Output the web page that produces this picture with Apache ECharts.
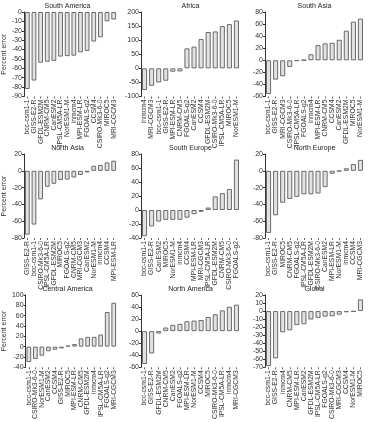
<!DOCTYPE html>
<html>
<head>
<meta charset="utf-8">
<script src="https://cdn.jsdelivr.net/npm/echarts@6/dist/echarts.min.js"></script>
<style>
  html, body { margin: 0; padding: 0; background: #fff; }
  #main { width: 369px; height: 422px; }
</style>
</head>
<body>
<div id="main"></div>
<script type="text/javascript">
    // panel titles
    var titles = ['South America', 'Africa', 'South Asia', 'North Asia', 'South Europe',
        'North Europe', 'Central America', 'North America', 'Global'];

    // models per panel (sorted as in the figure)
    var catSouthAmerica = ['bcc-csm1-1', 'GISS-E2-R', 'GFDL-ESM2M', 'CNRM-CM5', 'CanESM2', 'IPSL-CM5A-LR', 'NorESM1-M',
        'inmcm4', 'MPI-ESM-LR', 'FGOALS-g2', 'CCSM4', 'CSIRO-Mk3-6-0', 'MIROC5', 'MRI-CGCM3'];
    var valSouthAmerica = [-82, -73, -54, -53, -52, -47.5, -47, -46.5, -43, -41.5, -31.5, -27, -10, -8];

    var catAfrica = ['inmcm4', 'MRI-CGCM3', 'bcc-csm1-1', 'GISS-E2-R', 'MPI-ESM-LR', 'CNRM-CM5', 'FGOALS-g2',
        'CanESM2', 'CCSM4', 'GFDL-ESM2M', 'CSIRO-Mk3-6-0', 'IPSL-CM5A-LR', 'MIROC5', 'NorESM1-M'];
    var valAfrica = [-77, -62, -50, -44, -12, -11, 71, 77, 104, 129, 131, 150, 157, 170];

    var catSouthAsia = ['bcc-csm1-1', 'GISS-E2-R', 'MRI-CGCM3', 'CSIRO-Mk3-6-0', 'IPSL-CM5A-LR', 'FGOALS-g2', 'inmcm4',
        'MPI-ESM-LR', 'CNRM-CM5', 'CCSM4', 'CanESM2', 'GFDL-ESM2M', 'MIROC5', 'NorESM1-M'];
    var valSouthAsia = [-56, -32, -26.5, -11, -1, 0.5, 10, 25, 28, 29, 34, 49, 64, 69];

    var catNorthAsia = ['GISS-E2-R', 'bcc-csm1-1', 'CSIRO-Mk3-6-0', 'IPSL-CM5A-LR', 'GFDL-ESM2M', 'MIROC5', 'FGOALS-g2',
        'CNRM-CM5', 'MRI-CGCM3', 'CanESM2', 'NorESM1-M', 'inmcm4', 'CCSM4', 'MPI-ESM-LR'];
    var valNorthAsia = [-76, -64, -34, -19, -15.5, -11, -10.5, -8, -5, -2, 6, 7, 10, 12];

    var catSouthEurope = ['bcc-csm1-1', 'GISS-E2-R', 'CanESM2', 'MIROC5', 'NorESM1-M', 'inmcm4', 'CCSM4',
        'MPI-ESM-LR', 'MRI-CGCM3', 'IPSL-CM5A-LR', 'GFDL-ESM2M', 'CNRM-CM5', 'CSIRO-Mk3-6-0', 'FGOALS-g2'];
    var valSouthEurope = [-37.5, -23.5, -16.5, -14, -14, -14, -11, -6, -2.5, 3.5, 19.5, 24, 30, 72];

    var catNorthEurope = ['bcc-csm1-1', 'GISS-E2-R', 'MIROC5', 'CNRM-CM5', 'FGOALS-g2', 'IPSL-CM5A-LR', 'GFDL-ESM2M',
        'CSIRO-Mk3-6-0', 'CanESM2', 'MPI-ESM-LR', 'NorESM1-M', 'inmcm4', 'CCSM4', 'MRI-CGCM3'];
    var valNorthEurope = [-74, -53, -38, -33.5, -31, -28, -28, -27, -19.5, -3.5, -0.5, 3, 8, 13];

    var catCentralAmerica = ['bcc-csm1-1', 'CSIRO-Mk3-6-0', 'NorESM1-M', 'CanESM2', 'CCSM4', 'GISS-E2-R', 'MIROC5',
        'MPI-ESM-LR', 'CNRM-CM5', 'GFDL-ESM2M', 'inmcm4', 'IPSL-CM5A-LR', 'FGOALS-g2', 'MRI-CGCM3'];
    var valCentralAmerica = [-30, -24, -17.5, -9, -6, -3.5, 2, 5, 16, 19, 19, 23.5, 67, 85];

    var catNorthAmerica = ['bcc-csm1-1', 'GISS-E2-R', 'GFDL-ESM2M', 'CNRM-CM5', 'CanESM2', 'FGOALS-g2', 'MPI-ESM-LR',
        'NorESM1-M', 'CCSM4', 'MIROC5', 'CSIRO-Mk3-6-0', 'IPSL-CM5A-LR', 'inmcm4', 'MRI-CGCM3'];
    var valNorthAmerica = [-54.5, -37, -4, 6, 10.5, 12, 16.5, 17.5, 18.5, 23.5, 28, 34.5, 40.5, 44];

    var catGlobal = ['bcc-csm1-1', 'GISS-E2-R', 'inmcm4', 'CNRM-CM5', 'MPI-ESM-LR', 'CanESM2', 'GFDL-ESM2M',
        'IPSL-CM5A-LR', 'FGOALS-g2', 'CSIRO-Mk3-6-0', 'MRI-CGCM3', 'CCSM4', 'NorESM1-M', 'MIROC5'];
    var valGlobal = [-68.5, -59, -26.5, -24, -17.5, -16.5, -10.5, -8.5, -7, -6.5, -4.5, -1.5, -0.7, 14.5];

    // y axis ranges [min, max, interval]
    var yRanges = [[-90, 0, 10], [-100, 200, 50], [-60, 80, 20],
        [-80, 20, 20], [-40, 80, 20], [-80, 20, 20],
        [-40, 100, 20], [-60, 60, 20], [-70, 20, 10]];

    var cats = [catSouthAmerica, catAfrica, catSouthAsia, catNorthAsia, catSouthEurope,
        catNorthEurope, catCentralAmerica, catNorthAmerica, catGlobal];
    var vals = [valSouthAmerica, valAfrica, valSouthAsia, valNorthAsia, valSouthEurope,
        valNorthEurope, valCentralAmerica, valNorthAmerica, valGlobal];

    var chart = echarts.init(document.getElementById('main'));
    var font = 'Liberation Sans';
    var colLeft = [18, 141, 265];
    var rowTop = [12, 154, 295];
    var rowH = [84.5, 84, 83];
    var plotW = 99;

    var option = {
        animation: false,
        backgroundColor: '#fff',
        textStyle: { fontFamily: font },
        title: [], grid: [], xAxis: [], yAxis: [], series: []
    };

    for (var i = 0; i < 9; i++) {
        var r = Math.floor(i / 3), c = i % 3;
        option.title.push({
            text: titles[i],
            left: colLeft[c] + plotW / 2,
            top: rowTop[r] - 9,
            textAlign: 'center',
            padding: 0,
            textStyle: { fontSize: 7, fontWeight: 'normal', color: '#222', fontFamily: font }
        });
        option.grid.push({
            left: colLeft[c], top: rowTop[r], width: plotW, height: rowH[r]
        });
        option.xAxis.push({
            type: 'category',
            gridIndex: i,
            data: cats[i],
            position: 'bottom',
            axisLine: { show: false, onZero: false },
            axisTick: { show: true, alignWithLabel: true, length: 2, lineStyle: { color: '#666' } },
            axisLabel: { rotate: 90, interval: 0, fontSize: 6.8, margin: 3, color: '#333', fontFamily: font },
            splitLine: { show: false }
        });
        option.yAxis.push({
            type: 'value',
            gridIndex: i,
            min: yRanges[i][0],
            max: yRanges[i][1],
            interval: yRanges[i][2],
            name: c === 0 ? 'Percent error' : '',
            nameLocation: 'middle',
            nameGap: 11,
            nameTextStyle: { fontSize: 7, color: '#333', fontFamily: font },
            axisLine: { show: true, lineStyle: { color: '#333', width: 1 } },
            axisTick: { show: true, length: 2, lineStyle: { color: '#333' } },
            axisLabel: { fontSize: 7, margin: 2, color: '#333', fontFamily: font },
            splitLine: { show: false }
        });
        option.series.push({
            type: 'bar',
            xAxisIndex: i,
            yAxisIndex: i,
            data: vals[i],
            barCategoryGap: '28%',
            itemStyle: { color: '#e2e2e2', borderColor: '#6a6a6a', borderWidth: 1 }
        });
    }

    chart.setOption(option);
</script>
</body>
</html>
